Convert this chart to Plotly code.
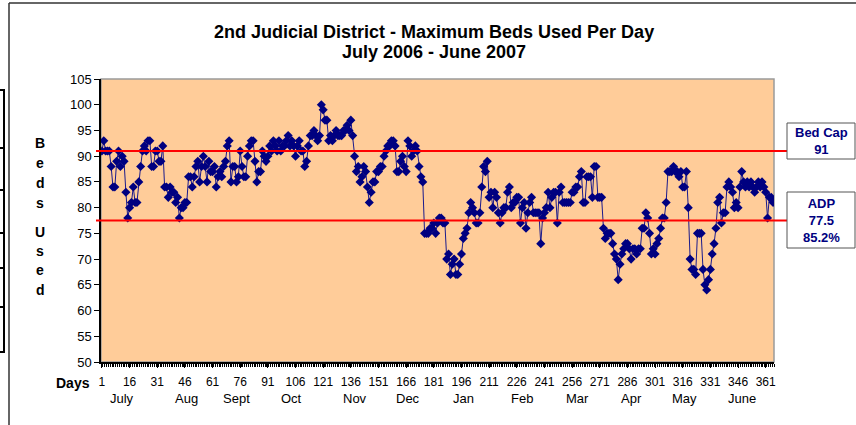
import plotly.graph_objects as go

# ---------------- data ----------------
DAYS = list(range(1, 366))
BEDS_USED = [
    # days 1-91 (July - Sept)
    91, 93, 91, 91, 91, 88, 84, 84, 89, 91, 88, 90, 89, 83, 78, 80, 81, 84, 81, 81,
    85, 88, 91, 92, 91, 93, 93, 88, 88, 91, 91, 89, 89, 92, 84, 84, 82, 84, 83, 83,
    81, 82, 78, 80, 80, 81, 81, 86, 86, 84, 86, 88, 89, 85, 88, 90, 88, 85, 89, 87,
    87, 88, 84, 86, 87, 86, 88, 89, 92, 93, 85, 88, 88, 85, 86, 91, 88, 86, 86, 90,
    92, 93, 93, 89, 85, 87, 87, 91, 90, 89, 90,
    # days 92-184 (Oct - Dec)
    92, 91, 93, 92, 91, 93, 91, 92, 92, 93, 94, 92, 93, 92, 90, 92, 93, 91, 91, 88,
    89, 92, 94, 94, 95, 94, 93, 94, 100, 99, 97, 97, 93, 94, 93, 94, 95, 94, 94, 94,
    95, 95, 96, 95, 97, 94, 90, 87, 88, 85, 86, 88, 87, 84, 81, 83, 85, 85, 87, 87,
    88, 88, 90, 91, 92, 92, 93, 93, 92, 87, 87, 89, 90, 88, 87, 93, 92, 90, 91, 92,
    91, 88, 86, 85, 75, 75, 75, 76, 76, 77, 75, 77, 78,
    # days 185-275 (Jan - Mar)
    78, 77, 77, 70, 71, 67, 69, 70, 67, 67, 69, 71, 74, 75, 76, 79, 81, 80, 79, 77,
    77, 79, 84, 88, 87, 89, 82, 83, 80, 83, 82, 79, 77, 79, 80, 80, 83, 84, 80, 81,
    81, 82, 82, 77, 80, 81, 76, 79, 81, 82, 79, 79, 79, 79, 73, 78, 79, 80, 83, 80,
    82, 83, 83, 77, 83, 84, 81, 81, 81, 81, 81, 83, 83, 84, 84, 86, 87, 81, 81, 86,
    86, 86, 82, 88, 88, 82, 82, 82, 76, 74, 75,
    # days 276-365 (Apr - June)
    75, 75, 73, 71, 70, 66, 69, 71, 72, 73, 73, 72, 70, 72, 72, 71, 72, 72, 76, 76,
    79, 78, 75, 71, 72, 71, 73, 74, 76, 78, 78, 81, 87, 87, 87, 88, 87, 87, 86, 87,
    84, 84, 87, 80, 70, 68, 68, 67, 75, 75, 75, 68, 65, 64, 66, 68, 71, 73, 76, 81,
    82, 77, 79, 79, 84, 85, 84, 83, 80, 81, 80, 84, 87, 85, 84, 85, 84, 85, 84, 83,
    84, 85, 84, 85, 84, 83, 78, 82, 82, 81,
]
BED_CAP = 91
ADP = 77.5
DAY_TICKS = list(range(1, 366, 15))
MONTHS = ["July", "Aug", "Sept", "Oct", "Nov", "Dec",
          "Jan", "Feb", "Mar", "Apr", "May", "June"]
MONTH_LABEL_DAY = [12, 47, 74, 104, 138, 167, 197, 229, 259, 288, 317, 348]
TITLE_1 = "2nd Judicial District - Maximum Beds Used Per Day"
TITLE_2 = "July 2006 - June 2007"
Y_TITLE_1 = "Beds"
Y_TITLE_2 = "Used"

# ---------------- geometry helpers (pixels -> paper) ----------------
W, H = 856, 425
L, R, T, B = 101, 82, 79, 63
PW, PH = W - L - R, H - T - B


def px(x):
    return (x - L) / PW


def py(y):
    return (H - B - y) / PH


FONT = "Liberation Sans, Arial, sans-serif"
NAVY = "#000080"

fig = go.Figure()
fig.add_trace(go.Scatter(
    x=DAYS, y=BEDS_USED, mode="lines+markers",
    line=dict(color="#1a1a8c", width=1),
    marker=dict(symbol="diamond", size=7, color=NAVY),
    hoverinfo="x+y", showlegend=False,
))

shapes = []
# plot-area border (grey)
shapes.append(dict(type="rect", xref="paper", yref="paper", x0=0, x1=1, y0=0, y1=1,
                   line=dict(color="#9a9a9a", width=1.5), layer="below"))
# reference lines
for val in (BED_CAP, ADP):
    shapes.append(dict(type="line", xref="paper", yref="y", x0=px(96), x1=px(787),
                       y0=val, y1=val, line=dict(color="red", width=2)))
# label boxes
shapes.append(dict(type="rect", xref="paper", yref="paper", x0=px(787), x1=px(855),
                   y0=py(159), y1=py(123), line=dict(color="#555555", width=1),
                   fillcolor="white"))
shapes.append(dict(type="rect", xref="paper", yref="paper", x0=px(787), x1=px(855),
                   y0=py(248), y1=py(192), line=dict(color="#555555", width=1),
                   fillcolor="white"))
# chart frame (left and top)
shapes.append(dict(type="line", xref="paper", yref="paper", x0=px(9), x1=px(9),
                   y0=py(426), y1=py(3), line=dict(color="#333333", width=1.5)))
shapes.append(dict(type="line", xref="paper", yref="paper", x0=px(9), x1=px(857),
                   y0=py(3), y1=py(3), line=dict(color="#333333", width=1.5)))
# neighbouring cell borders at far left
shapes.append(dict(type="rect", xref="paper", yref="paper", x0=px(-2), x1=px(4),
                   y0=py(352), y1=py(90), line=dict(color="black", width=2)))
for yy in (148, 190, 233, 268, 307):
    shapes.append(dict(type="line", xref="paper", yref="paper", x0=px(-2), x1=px(4),
                       y0=py(yy), y1=py(yy), line=dict(color="black", width=2)))


def ann(x, y, text, size, color="black", xref="paper"):
    return dict(xref=xref, yref="paper", x=x, y=y, text=text, showarrow=False,
                xanchor="center", yanchor="middle", align="center",
                font=dict(family=FONT, size=size, color=color))


annotations = []
annotations.append(ann(px(434), py(32), f"<b>{TITLE_1}</b>", 18))
annotations.append(ann(px(434), py(52), f"<b>{TITLE_2}</b>", 18))
annotations.append(ann(px(821), py(141), f"<b>Bed Cap<br>{BED_CAP}</b>", 13, NAVY))
pct = ADP / BED_CAP * 100
annotations.append(ann(px(821), py(220), f"<b>ADP<br>{ADP}<br>{pct:.1f}%</b>", 13, NAVY))
for m, d in zip(MONTHS, MONTH_LABEL_DAY):
    annotations.append(ann(d, py(398), m, 13, xref="x"))
annotations.append(ann(px(73), py(383), "<b>Days</b>", 14))
letter_y = [143, 163, 183, 203, 232, 251, 270, 290]
for ch, yy in zip(Y_TITLE_1 + Y_TITLE_2, letter_y):
    annotations.append(ann(px(40), py(yy), f"<b>{ch}</b>", 14))

fig.update_layout(
    width=W, height=H,
    margin=dict(l=L, r=R, t=T, b=B),
    paper_bgcolor="white", plot_bgcolor="#FFCC99",
    shapes=shapes, annotations=annotations,
    xaxis=dict(range=[0.5, 365.5], tickvals=DAY_TICKS, ticktext=[str(v) for v in DAY_TICKS],
               ticks="outside", ticklen=4, tickcolor="black", showgrid=False, zeroline=False,
               showline=True, linecolor="black", linewidth=1.5,
               ticklabelstandoff=4,
               minor=dict(ticks="outside", ticklen=3, tickcolor="black", dtick=1, tick0=0.5,
                          showgrid=False),
               tickfont=dict(family=FONT, size=12, color="black")),
    yaxis=dict(range=[50, 105], dtick=5, tick0=50, ticks="outside", ticklen=5,
               tickcolor="black", showgrid=False, zeroline=False,
               showline=True, linecolor="black", linewidth=1.5,
               tickfont=dict(family=FONT, size=13, color="black")),
)

fig.write_html("out.html", config={"displayModeBar": False},
               post_script="document.body.style.margin='0px';document.body.style.overflow='hidden';")
